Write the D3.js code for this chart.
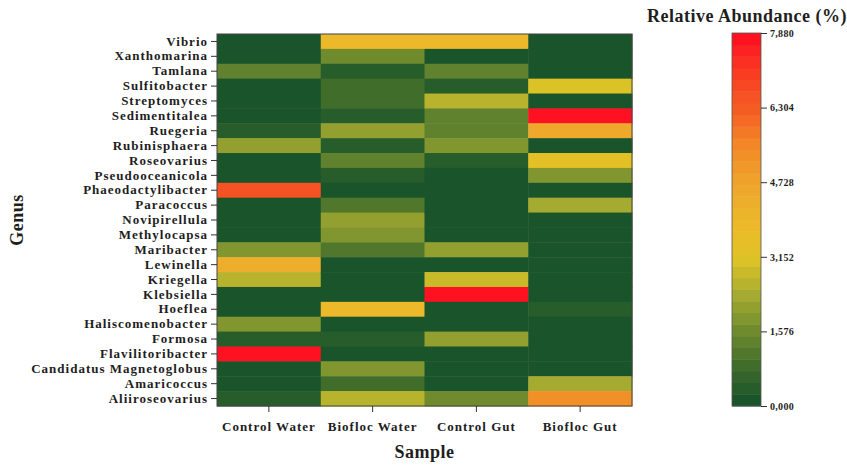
<!DOCTYPE html>
<html>
<head>
<meta charset="utf-8">
<script src="https://cdn.jsdelivr.net/npm/d3@7"></script>
<style>
  body { margin: 0; background: #fff; }
  text { font-family: "Liberation Serif", "Times New Roman", serif; font-weight: bold; fill: #1e1e1e; }
</style>
</head>
<body>
<svg></svg>
<script>
var samples = ["Control Water", "Biofloc Water", "Control Gut", "Biofloc Gut"];

var genera = ["Vibrio", "Xanthomarina", "Tamlana", "Sulfitobacter", "Streptomyces",
  "Sedimentitalea", "Ruegeria", "Rubinisphaera", "Roseovarius", "Pseudooceanicola",
  "Phaeodactylibacter", "Paracoccus", "Novipirellula", "Methylocapsa", "Maribacter",
  "Lewinella", "Kriegella", "Klebsiella", "Hoeflea", "Haliscomenobacter", "Formosa",
  "Flavilitoribacter", "Candidatus Magnetoglobus", "Amaricoccus", "Aliiroseovarius"];

// one array per sample, same order as genera
var controlWater = [0, 0, 1.4, 0, 0, 0, 0.4, 2.2, 0, 0, 6.6, 0, 0, 0, 1.8, 4.4, 2.7, 0, 0, 1.8, 0.4, 7.7, 0, 0, 0.4];
var bioflocWater = [3.8, 1.7, 0.4, 0.8, 0.8, 0.4, 2.1, 0.4, 1.3, 0.4, 0, 1.0, 2.2, 1.9, 1.1, 0, 0, 0, 3.8, 0, 0.4, 0, 1.8, 0.8, 2.7];
var controlGut = [3.8, 0, 1.4, 0.4, 2.6, 1.4, 1.4, 1.8, 0.4, 0, 0, 0, 0, 0, 2.1, 0, 2.9, 7.88, 0, 0, 2.1, 0, 0, 0, 1.7];
var bioflocGut = [0, 0, 0, 3.1, 0, 7.88, 4.5, 0, 3.4, 1.9, 0, 2.4, 0, 0, 0, 0, 0, 0, 0.4, 0, 0, 0, 0, 2.4, 5.2];

var colorTicks = [0, 1.576, 3.152, 4.728, 6.304, 7.88];
var colorStops = [0, 0.8, 1.576, 2.4, 3.152, 3.9, 4.728, 5.5, 6.304, 7.1, 7.88];
var stopColors = ["#14502b", "#3d6a2b", "#6e8a2e", "#a9ad30", "#e0c425", "#ecb82a",
  "#eea52c", "#f38927", "#f55b24", "#f83a22", "#ff0a22"];

var width = 847, height = 466;
var svg = d3.select("svg").attr("width", width).attr("height", height);

var margin = {left: 217, top: 34, right: 215, bottom: 60};
var plotW = width - margin.left - margin.right;
var plotH = height - margin.top - margin.bottom;

var series = [controlWater, bioflocWater, controlGut, bioflocGut];
var cells = [];
samples.forEach(function(s, i) {
  genera.forEach(function(g, j) {
    cells.push({sample: s, genus: g, value: series[i][j]});
  });
});

var x = d3.scaleBand().domain(samples).range([margin.left, margin.left + plotW]);
var y = d3.scaleBand().domain(genera).range([margin.top, margin.top + plotH]);

var smooth = d3.scaleLinear().domain(colorStops).range(stopColors).clamp(true);
var nLevels = 32;
var levels = d3.range(nLevels).map(function(i) { return smooth(7.88 * (i + 0.5) / nLevels); });
var color = d3.scaleQuantize().domain([0, 7.88]).range(levels);

svg.selectAll("rect.cell")
  .data(cells)
  .enter()
  .append("rect")
  .attr("class", "cell")
  .attr("x", function(d) { return x(d.sample); })
  .attr("y", function(d) { return y(d.genus); })
  .attr("width", x.bandwidth() + 0.5)
  .attr("height", y.bandwidth() + 0.5)
  .attr("fill", function(d) { return color(d.value); });

svg.append("rect")
  .attr("x", margin.left).attr("y", margin.top)
  .attr("width", plotW).attr("height", plotH)
  .attr("fill", "none").attr("stroke", "#444").attr("stroke-width", 1);

function styleAxis(g, size, spacing) {
  g.attr("color", "#1e1e1e");
  g.select(".domain").remove();
  g.selectAll("text")
    .attr("font-size", size)
    .style("font-family", '"Liberation Serif", serif')
    .style("font-weight", "bold")
    .style("letter-spacing", spacing + "px");
  g.selectAll("line").attr("stroke", "#333");
}

var yAxis = svg.append("g")
  .attr("transform", "translate(" + margin.left + ",0)")
  .call(d3.axisLeft(y).tickSize(6).tickPadding(3));
styleAxis(yAxis, 13, 1);

var xAxis = svg.append("g")
  .attr("transform", "translate(0," + (margin.top + plotH) + ")")
  .call(d3.axisBottom(x).tickSize(6).tickPadding(10));
styleAxis(xAxis, 13, 1);

svg.append("text")
  .attr("x", margin.left + plotW / 2).attr("y", 458)
  .attr("text-anchor", "middle").attr("font-size", 18)
  .style("letter-spacing", "0.5px")
  .text("Sample");

svg.append("text")
  .attr("transform", "translate(23," + (margin.top + plotH / 2) + ") rotate(-90)")
  .attr("text-anchor", "middle").attr("font-size", 18)
  .style("letter-spacing", "0.5px")
  .text("Genus");

// colour bar
var cbX = 732, cbW = 29, cbTop = 33, cbBottom = 406;
var cScale = d3.scaleLinear().domain([0, 7.88]).range([cbBottom, cbTop]);
var bandH = (cbBottom - cbTop) / nLevels;

svg.selectAll("rect.band")
  .data(levels)
  .enter()
  .append("rect")
  .attr("class", "band")
  .attr("x", cbX)
  .attr("y", function(d, i) { return cbBottom - (i + 1) * bandH; })
  .attr("width", cbW)
  .attr("height", bandH + 0.5)
  .attr("fill", function(d) { return d; });

svg.append("rect")
  .attr("x", cbX).attr("y", cbTop)
  .attr("width", cbW).attr("height", cbBottom - cbTop)
  .attr("fill", "none").attr("stroke", "#555").attr("stroke-width", 0.8);

var cAxis = svg.append("g")
  .attr("transform", "translate(" + (cbX + cbW) + ",0)")
  .call(d3.axisRight(cScale).tickValues(colorTicks).tickSize(6).tickPadding(3)
    .tickFormat(function(d) { return d3.format(".3f")(d).replace(".", ","); }));
styleAxis(cAxis, 10, 0.3);

svg.append("text")
  .attr("x", 747).attr("y", 22)
  .attr("text-anchor", "middle").attr("font-size", 18)
  .style("letter-spacing", "0.5px")
  .text("Relative Abundance (%)");
</script>
</body>
</html>
